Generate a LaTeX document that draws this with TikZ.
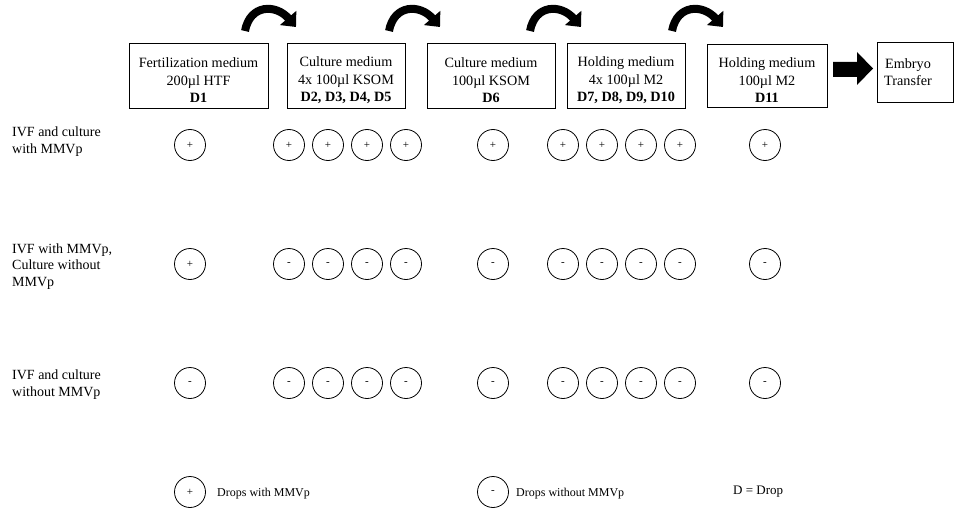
\documentclass[tikz,border=0pt]{standalone}
\usepackage{fontspec}
\setmainfont{Liberation Serif}
\usetikzlibrary{arrows.meta}
\begin{document}
\begin{tikzpicture}[x=1pt,y=-1pt,
  stage/.style={draw, line width=0.9pt, inner sep=0pt},
  stagetext/.style={inner sep=0pt, align=center, font=\fontsize{14.2}{17.5}\selectfont},
  drop/.style={circle, draw, line width=0.8pt, minimum size=31pt, inner sep=0pt, font=\fontsize{11}{12}\selectfont},
  lbl/.style={anchor=west, align=left, inner sep=0pt, font=\fontsize{14}{16.8}\selectfont},
  leg/.style={anchor=west, inner sep=0pt, font=\fontsize{12}{14}\selectfont},
  bendarrow/.style={line width=8pt, -{Triangle[length=12pt,width=21pt]}}
]
\useasboundingbox (0,0) rectangle (955,508);

% stage boxes
\node[stage, minimum width=139pt, minimum height=65pt] (b1) at (198.5,75.5) {};
\node[stage, minimum width=118pt, minimum height=65pt] (b2) at (346,75.5) {};
\node[stage, minimum width=128pt, minimum height=65pt] (b3) at (491,75.5) {};
\node[stage, minimum width=118pt, minimum height=65pt] (b4) at (626,75.5) {};
\node[stage, minimum width=120pt, minimum height=63pt] (b5) at (767,75.5) {};
\node[stage, minimum width=76pt, minimum height=60pt] (b6) at (915,72) {};

\node[stagetext, yshift=-5pt] (t1) at (b1) {Fertilization medium\\200µl HTF\\\textbf{D1}};
\node[stagetext, yshift=-5pt] (t2) at (b2) {Culture medium\\4x 100µl KSOM\\\textbf{D2, D3, D4, D5}};
\node[stagetext, yshift=-5pt] (t3) at (b3) {Culture medium\\100µl KSOM\\\textbf{D6}};
\node[stagetext, yshift=-5pt] (t4) at (b4) {Holding medium\\4x 100µl M2\\\textbf{D7, D8, D9, D10}};
\node[stagetext, yshift=-5pt] (t5) at (b5) {Holding medium\\100µl M2\\\textbf{D11}};
\node[stagetext, xshift=-7pt] (t6) at (b6) {Embryo\\Transfer};

% block arrow between b5 and b6
\fill (833,62) -- (857,62) -- (857,52) -- (873,68.5) -- (857,85) -- (857,77) -- (833,77) -- cycle;

% curved arrows
\foreach \x in {238,382,523,665}{
  \draw[bendarrow] (\x+7,31) .. controls (\x+12,4) and (\x+38,4) .. (\x+58,27);
}

% row labels
\node[lbl] (r1) at (12,141.5) {IVF and culture\\with MMVp};
\node[lbl] (r2) at (12,266.5) {IVF with MMVp,\\Culture without\\MMVp};
\node[lbl] (r3) at (12,385) {IVF and culture\\without MMVp};

% drops
\def\colx{190,289,328,367,406,493,563,602,641,680,765}
\foreach \x [count=\i] in \colx {
  \node[drop] (c1-\i) at (\x,145) {+};
  \ifnum\i=1
    \node[drop] (c2-\i) at (\x,264) {+};
  \else
    \node[drop] (c2-\i) at (\x,264) {-};
  \fi
  \node[drop] (c3-\i) at (\x,383) {-};
}

% legend
\node[drop] (lp) at (190,492) {+};
\node[leg] (lpt) at (217,494) {Drops with MMVp};
\node[drop] (lm) at (493,492) {-};
\node[leg] (lmt) at (516,494) {Drops without MMVp};
\node[leg, font=\fontsize{13}{15}\selectfont] (ld) at (733,492) {D = Drop};
\end{tikzpicture}
\end{document}
